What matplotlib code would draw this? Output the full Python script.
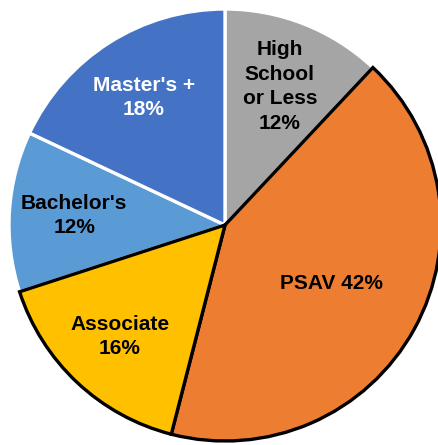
import matplotlib
matplotlib.use("Agg")
import matplotlib.pyplot as plt
import numpy as np

categories = ["High\nSchool\nor Less", "PSAV", "Associate", "Bachelor's", "Master's +"]
values = [12, 42, 16, 12, 18]
label_texts = ["High\nSchool\nor Less\n12%", "PSAV 42%", "Associate\n16%", "Bachelor's\n12%", "Master's +\n18%"]

colors = ["#A5A5A5", "#ED7D31", "#FFC000", "#5B9BD5", "#4472C4"]
edge_colors = ["white", "black", "black", "white", "white"]
text_colors = ["black", "black", "black", "black", "white"]
label_r = [0.69, 0.56, 0.71, 0.70, 0.70]

W, H = 439, 445
cx, cy, R = 225, 225, 216
fig = plt.figure(figsize=(W / 100, H / 100), dpi=100)
ax = fig.add_axes([0, 0, 1, 1])

wedges, _ = ax.pie(values, colors=colors, startangle=90, counterclock=False,
                   radius=1.0, center=(0, 0), frame=True)
ax.set_xlim(-cx / R, (W - cx) / R)
ax.set_ylim(-(H - cy) / R, cy / R)
ax.set_aspect("equal")
ax.axis("off")

for w, ec in zip(wedges, edge_colors):
    w.set_edgecolor(ec)
    w.set_linewidth(2.4)
    w.set_joinstyle("miter")
    w.set_zorder(3 if ec == "black" else 2)

for w, t, tc, r in zip(wedges, label_texts, text_colors, label_r):
    mid = np.deg2rad((w.theta1 + w.theta2) / 2)
    ax.text(r * np.cos(mid), r * np.sin(mid), t, ha="center", va="center",
            fontsize=15, fontweight="bold", color=tc, family="Liberation Sans",
            linespacing=1.36, zorder=5)

fig.savefig("out.png", dpi=100)
